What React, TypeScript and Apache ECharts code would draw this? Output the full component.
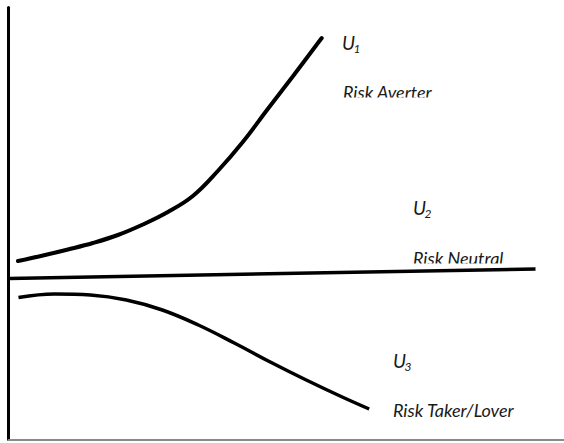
import React, { useEffect, useRef } from "react";
import * as echarts from "echarts";

// Curve values (wealth on x, utility on y)
const riskAverterCurve: [number, number][] = [
  [9.5, 178.5], [34.5, 184], [59.5, 190], [84.5, 196.5], [109.5, 204.5], [134.5, 215],
  [159.5, 227.5], [184.5, 243.5], [209.5, 268.5], [234.5, 297.5], [259.5, 330.5],
  [284.5, 363], [313.5, 401.5],
];
const riskNeutralLine: [number, number][] = [
  [0.5, 161], [527.5, 170.5],
];
const riskTakerCurve: [number, number][] = [
  [10, 142], [46, 145.5], [82, 144.5], [118, 139.5], [154, 129.5], [190, 114.5],
  [226, 96.5], [262, 77.5], [298, 59.5], [334, 42.5], [361, 30.5],
];
const utilitySubscripts = ["1", "2", "3"];
const riskLabels = ["Risk Averter", "Risk Neutral", "Risk Taker/Lover"];

const FONT = "Lato";
const TEXT_COLOR = "#1a1a1a";

export default function App() {
  const ref = useRef<HTMLDivElement>(null);
  useEffect(() => {
    document.body.style.margin = "0";
    if (!ref.current) return;
    const chart = echarts.init(ref.current, undefined, { renderer: "svg" });

    const uLabel = (x: number, y: number, sub: string) => [
      {
        type: "text", x, y, z: 10,
        style: { text: "U", font: `italic 19px ${FONT}`, fill: TEXT_COLOR, verticalAlign: "middle", align: "left" },
      },
      {
        type: "text", x: x + 11.5, y: y + 6, z: 10,
        style: { text: sub, font: `italic 12px ${FONT}`, fill: TEXT_COLOR, verticalAlign: "middle", align: "left" },
      },
    ];
    const riskLabel = (x: number, y: number, text: string) => ({
      type: "text", x, y, z: 10,
      style: { text, font: `italic 18px ${FONT}`, fill: TEXT_COLOR, verticalAlign: "middle", align: "left" },
    });

    chart.setOption({
      animation: false,
      backgroundColor: "#ffffff",
      grid: { left: 8.5, top: 7.5, width: 556, height: 432 },
      xAxis: {
        type: "value", min: 0, max: 556,
        axisLine: { show: true, lineStyle: { color: "#8a8a8a", width: 2 } },
        axisTick: { show: false }, axisLabel: { show: false }, splitLine: { show: false },
      },
      yAxis: {
        type: "value", min: 0, max: 432,
        axisLine: { show: true, lineStyle: { color: "#000000", width: 3 } },
        axisTick: { show: false }, axisLabel: { show: false }, splitLine: { show: false },
      },
      series: [
        {
          type: "line", data: riskAverterCurve, smooth: 0.4, showSymbol: false, silent: true,
          lineStyle: { color: "#000", width: 4, cap: "round" },
        },
        {
          type: "line", data: riskNeutralLine, showSymbol: false, silent: true,
          lineStyle: { color: "#000", width: 3.5 },
        },
        {
          type: "line", data: riskTakerCurve, smooth: 0.4, showSymbol: false, silent: true,
          lineStyle: { color: "#000", width: 3.5 },
        },
      ],
      graphic: [
        ...uLabel(342, 42, utilitySubscripts[0]),
        riskLabel(343, 92, riskLabels[0]),
        ...uLabel(413, 207, utilitySubscripts[1]),
        riskLabel(413, 258, riskLabels[1]),
        ...uLabel(393, 360, utilitySubscripts[2]),
        riskLabel(393, 410, riskLabels[2]),
        { type: "rect", z: 20, shape: { x: 338, y: 97.5, width: 100, height: 8 }, style: { fill: "#ffffff" } },
        { type: "rect", z: 20, shape: { x: 408, y: 263.5, width: 100, height: 3.5 }, style: { fill: "#ffffff" } },
      ],
    });
    return () => chart.dispose();
  }, []);
  return <div ref={ref} style={{ position: "absolute", left: 0, top: 0, width: 564, height: 443 }} />;
}
